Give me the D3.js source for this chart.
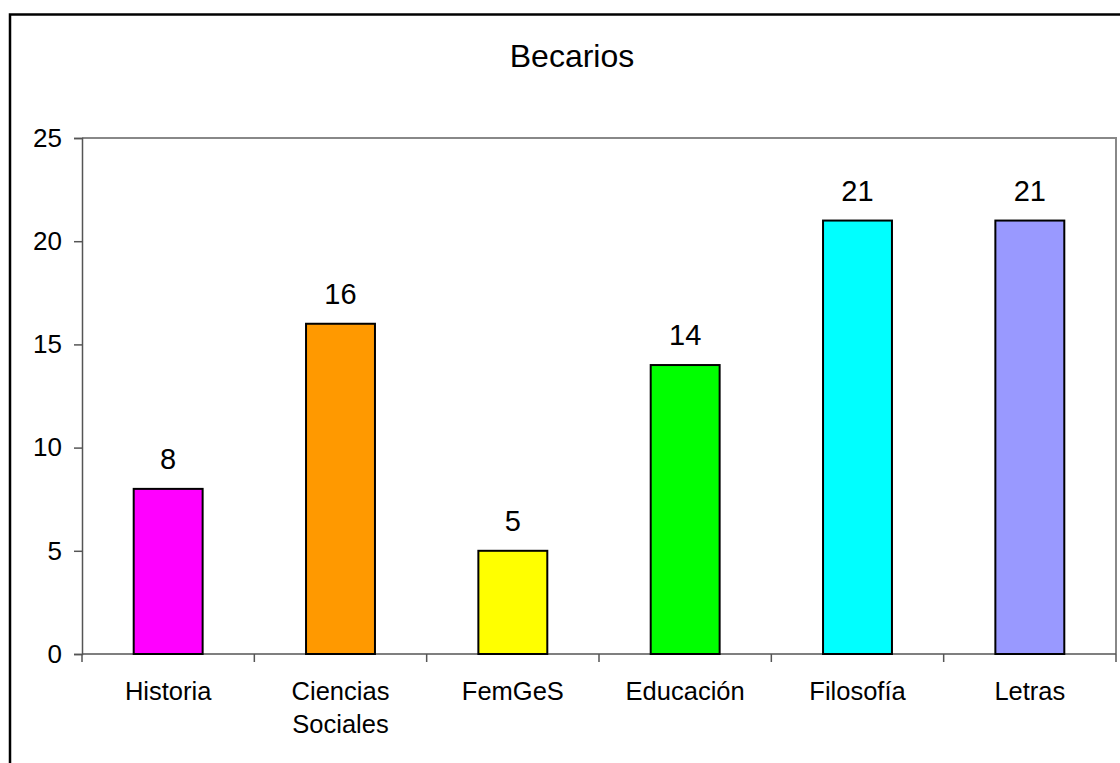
<!DOCTYPE html>
<html><head><meta charset="utf-8">
<script src="https://cdn.jsdelivr.net/npm/d3@7"></script>
<style>body{margin:0;background:#fff}svg{display:block;font-family:"Liberation Sans",Arial,sans-serif}</style>
</head><body>
<script>
const categories = [["Historia"],["Ciencias","Sociales"],["FemGeS"],["Educación"],["Filosofía"],["Letras"]];
const values = [8,16,5,14,21,21];
const colors = ["#ff00ff","#ff9900","#ffff00","#00ff00","#00ffff","#9999ff"];
const yTicks = [0,5,10,15,20,25];
const title = "Becarios";

const W=1120,H=763;
const svg=d3.select("body").append("svg").attr("width",W).attr("height",H);
svg.append("rect").attr("x",10).attr("y",14.5).attr("width",1140).attr("height",800)
  .attr("fill","#fff").attr("stroke","#000").attr("stroke-width",2.5);

const L=82,R=1116,T=138,B=654;
const keys=categories.map((c,i)=>i);
const x=d3.scaleBand().domain(keys).range([L,R]).paddingInner(0.6).paddingOuter(0.3);
const xb=d3.scaleBand().domain(keys).range([L,R]);
const y=d3.scaleLinear().domain([0,25]).range([B,T]);

// plot frame (top/right)
svg.append("path").attr("d",`M${L},${T}H${R}V${B}`).attr("fill","none").attr("stroke","#888").attr("stroke-width",2);

// y axis
const ya=svg.append("g").attr("transform",`translate(${L},0)`).call(d3.axisLeft(y).tickValues(yTicks).tickSize(8).tickPadding(12));
ya.attr("font-size",null).attr("font-family",null);
ya.select(".domain").attr("stroke","#555").attr("stroke-width",1.5);
ya.selectAll(".tick line").attr("stroke","#555").attr("stroke-width",1.5);
ya.selectAll("text").attr("font-size",26).attr("fill","#000");

// x axis
const xa=svg.append("g").attr("transform",`translate(0,${B})`);
xa.append("line").attr("x1",L).attr("x2",R).attr("y1",0).attr("y2",0).attr("stroke","#555").attr("stroke-width",1.5);
const bounds=keys.map(k=>xb(k)).concat([R]);
xa.selectAll("line.tk").data(bounds).join("line").attr("class","tk")
  .attr("x1",d=>d).attr("x2",d=>d).attr("y1",0).attr("y2",8).attr("stroke","#555").attr("stroke-width",1.5);
xa.selectAll("text.cl").data(keys).join("text").attr("class","cl")
  .attr("x",k=>xb(k)+xb.bandwidth()/2).attr("y",46).attr("text-anchor","middle").attr("font-size",25.5)
  .each(function(k){const t=d3.select(this);categories[k].forEach((s,j)=>t.append("tspan").attr("x",xb(k)+xb.bandwidth()/2).attr("dy",j?33:0).text(s));});

// bars
svg.selectAll("rect.bar").data(keys).join("rect").attr("class","bar")
  .attr("x",k=>x(k)).attr("width",x.bandwidth()).attr("y",k=>y(values[k])).attr("height",k=>B-y(values[k]))
  .attr("fill",k=>colors[k]).attr("stroke","#000").attr("stroke-width",2);

// value labels
svg.selectAll("text.vl").data(keys).join("text").attr("class","vl")
  .attr("x",k=>x(k)+x.bandwidth()/2).attr("y",k=>y(values[k])-20).attr("text-anchor","middle").attr("font-size",29)
  .text(k=>values[k]);

svg.append("text").attr("x",572).attr("y",67).attr("text-anchor","middle").attr("font-size",32).text(title);
</script>
</body></html>
